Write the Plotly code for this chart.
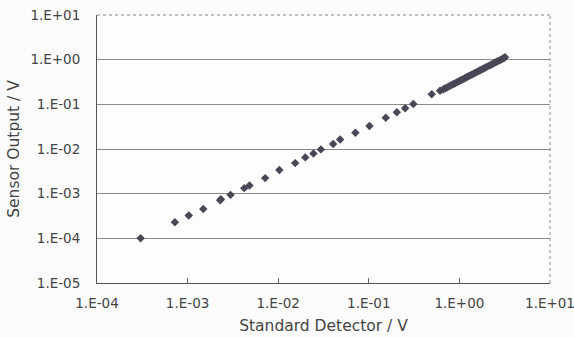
import plotly.graph_objects as go

# Data (Standard Detector / V vs Sensor Output / V)
standard_detector = [
    3.03e-4, 7.24e-4, 1.03e-3, 1.49e-3, 2.29e-3, 2.33e-3, 2.98e-3, 4.22e-3, 4.82e-3,
    7.18e-3, 1.03e-2, 1.54e-2, 1.99e-2, 2.45e-2, 2.96e-2, 4.04e-2, 4.83e-2, 7.11e-2,
    0.1017, 0.154, 0.204, 0.252, 0.310, 0.495, 0.612,
    0.665, 0.70, 0.74, 0.78, 0.82, 0.86, 0.90, 0.95, 1.00, 1.05, 1.10, 1.15, 1.20,
    1.26, 1.32, 1.38, 1.45, 1.52, 1.60, 1.68, 1.76, 1.85, 1.94, 2.03, 2.13, 2.23,
    2.34, 2.45, 2.57, 2.70, 2.83, 2.97, 3.10, 3.19,
]
sensor_output = [
    1.00e-4, 2.30e-4, 3.24e-4, 4.56e-4, 7.14e-4, 7.50e-4, 9.40e-4, 1.33e-3, 1.53e-3,
    2.23e-3, 3.37e-3, 4.83e-3, 6.49e-3, 7.96e-3, 9.80e-3, 1.29e-2, 1.64e-2, 2.31e-2,
    3.26e-2, 5.00e-2, 6.62e-2, 8.13e-2, 0.1016, 0.1675, 0.202,
    0.217, 0.229, 0.242, 0.256, 0.270, 0.284, 0.298, 0.315, 0.333, 0.350, 0.367,
    0.385, 0.403, 0.424, 0.445, 0.466, 0.490, 0.515, 0.543, 0.572, 0.601, 0.633,
    0.666, 0.699, 0.735, 0.771, 0.811, 0.851, 0.894, 0.940, 0.987, 1.037, 1.085,
    1.130,
]

x_tickvals = [1e-4, 1e-3, 1e-2, 1e-1, 1e0, 1e1]
x_ticktext = ["1.E-04", "1.E-03", "1.E-02", "1.E-01", "1.E+00", "1.E+01"]
y_tickvals = [1e-5, 1e-4, 1e-3, 1e-2, 1e-1, 1e0, 1e1]
y_ticktext = ["1.E-05", "1.E-04", "1.E-03", "1.E-02", "1.E-01", "1.E+00", "1.E+01"]

x_title = "Standard Detector / V"
y_title = "Sensor Output / V"

FONT = "DejaVu Sans"

fig = go.Figure()
fig.add_trace(go.Scatter(
    x=standard_detector, y=sensor_output, mode="markers",
    marker=dict(symbol="diamond", size=6.5, color="#474756"),
    showlegend=False, cliponaxis=False,
))

fig.update_layout(
    width=574, height=337,
    margin=dict(l=97, r=24, t=15, b=54),
    paper_bgcolor="#fbfbfb",
    plot_bgcolor="#fdfdfd",
    font=dict(family=FONT, size=13.5, color="#444444"),
    xaxis=dict(
        type="log", range=[-4, 1], automargin=False,
        tickvals=x_tickvals, ticktext=x_ticktext,
        ticklabeloverflow="allow",
        showgrid=False, zeroline=False,
        showline=True, linecolor="#555555", linewidth=1,
        ticks="inside", ticklen=5, tickcolor="#666666",
        ticklabelstandoff=8,
        title=dict(text=x_title, standoff=9, font=dict(size=15.5)),
        tickfont=dict(size=13.5),
    ),
    yaxis=dict(
        type="log", range=[-5, 1], automargin=False,
        tickvals=y_tickvals, ticktext=y_ticktext,
        showgrid=True, gridcolor="#8a8a8a", gridwidth=1,
        zeroline=False,
        showline=True, linecolor="#555555", linewidth=1,
        ticks="", ticklabelstandoff=13,
        title=dict(text=y_title, standoff=6, font=dict(size=15.5)),
        tickfont=dict(size=13.5),
    ),
)

# dotted top and right border of the plot area
fig.add_shape(type="line", xref="paper", yref="paper", x0=0, x1=1, y0=1, y1=1,
              line=dict(color="#888888", width=1, dash="dot"))
fig.add_shape(type="line", xref="paper", yref="paper", x0=1, x1=1, y0=0, y1=1,
              line=dict(color="#888888", width=1, dash="dot"))

fig.write_html("out.html",
               config={"displayModeBar": False},
               post_script="document.body.style.margin='0';document.body.style.background='#fbfbfb';")
